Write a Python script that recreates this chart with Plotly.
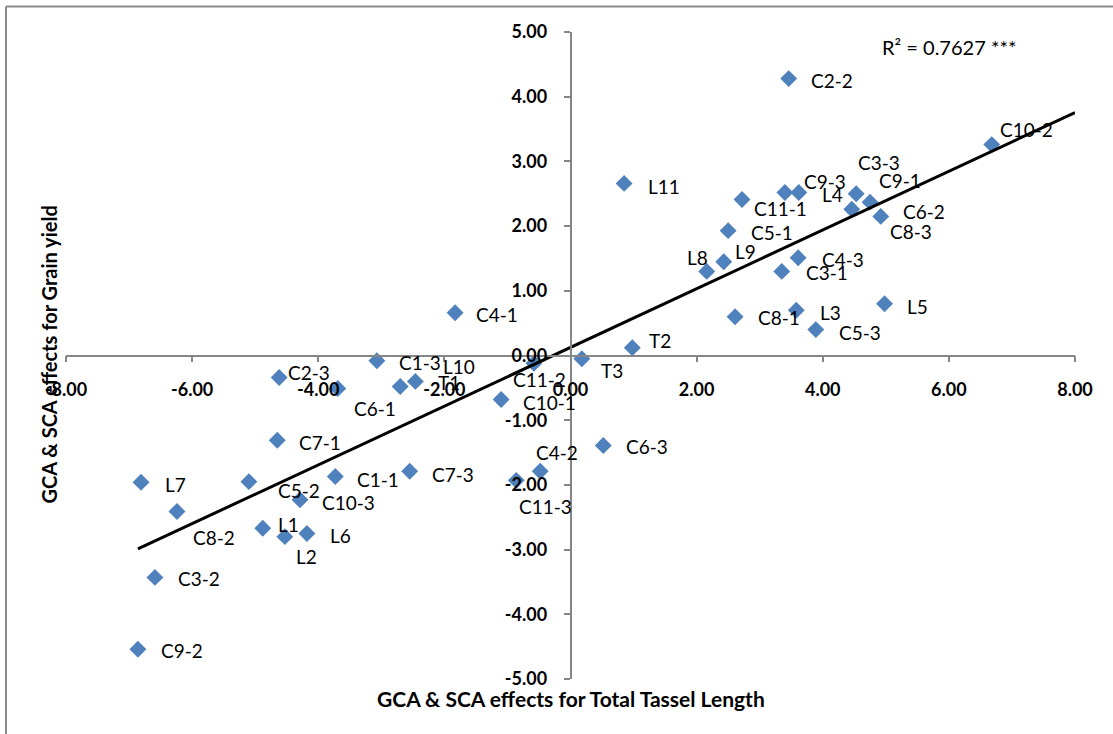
import numpy as np
import plotly.graph_objects as go

# ---- data ----
labels = ["C2-2", "C10-2", "L11", "C11-1", "C9-3", "L4", "C3-3", "C9-1", "C8-3", "C6-2",
          "C5-1", "L9", "L8", "C4-3", "C3-1", "L5", "L3", "C8-1", "C5-3", "T2",
          "T3", "C4-1", "C1-3", "L10", "T1", "C6-1", "C2-3", "C11-2", "C10-1", "C7-1",
          "C6-3", "C4-2", "C11-3", "C7-3", "C1-1", "C5-2", "L7", "C10-3", "C8-2", "L1",
          "L2", "L6", "C3-2", "C9-2"]
tassel_length = [3.46, 6.68, 0.85, 2.72, 3.40, 3.62, 4.53, 4.75, 4.46, 4.92,
                 2.50, 2.43, 2.16, 3.61, 3.35, 4.98, 3.58, 2.61, 3.89, 0.98,
                 0.18, -1.83, -3.07, -2.70, -2.46, -3.69, -4.62, -0.58, -1.10, -4.65,
                 0.52, -0.48, -0.86, -2.55, -3.73, -5.10, -6.81, -4.29, -6.24, -4.88,
                 -4.53, -4.18, -6.59, -6.86]
grain_yield = [4.28, 3.26, 2.66, 2.41, 2.52, 2.52, 2.50, 2.37, 2.26, 2.15,
               1.93, 1.45, 1.30, 1.51, 1.30, 0.80, 0.70, 0.60, 0.40, 0.12,
               -0.05, 0.66, -0.08, -0.48, -0.40, -0.51, -0.34, -0.12, -0.68, -1.31,
               -1.39, -1.79, -1.93, -1.79, -1.87, -1.95, -1.96, -2.23, -2.41, -2.67,
               -2.80, -2.75, -3.43, -4.54]
x_ticks = [-8, -6, -4, -2, 0, 2, 4, 6, 8]
y_ticks = [-5, -4, -3, -2, -1, 0, 1, 2, 3, 4, 5]
x_tick_labels = [f"{v:.2f}" for v in x_ticks]
y_tick_labels = [f"{v:.2f}" for v in y_ticks]
r2_text = "R² = 0.7627 ***"
x_title = "GCA & SCA effects for Total Tassel Length"
y_title = "GCA & SCA effects for Grain yield"

# ---- style: label offsets in pixels (dx to text left edge, dy downward) ----
label_offsets = {
    "C2-2": (21, 2), "C10-2": (7, -15), "L11": (23, 3), "C11-1": (11, 9), "C9-3": (18, -11),
    "L4": (22, 2), "C3-3": (1, -31), "C9-1": (8, -22), "C8-3": (37, 22), "C6-2": (21, -5),
    "C5-1": (22, 2), "L9": (10, -10), "L8": (-21, -14), "C4-3": (23, 2), "C3-1": (23, 1),
    "L5": (21, 3), "L3": (23, 2), "C8-1": (22, 1), "C5-3": (22, 3), "T2": (16, -7),
    "T3": (18, 12), "C4-1": (20, 2), "C1-3": (21, 2), "L10": (42, -20), "T1": (22, 1),
    "C6-1": (15, 20), "C2-3": (8, -5), "C11-2": (-22, 16), "C10-1": (21, 3), "C7-1": (21, 2),
    "C6-3": (22, 1), "C4-2": (-5, -19), "C11-3": (2, 26), "C7-3": (21, 3), "C1-1": (21, 3),
    "C5-2": (28, 9), "L7": (23, 2), "C10-3": (21, 3), "C8-2": (15, 26), "L1": (14, -4),
    "L2": (10, 20), "L6": (22, 2), "C3-2": (22, 1), "C9-2": (22, 1),
}

FONT = "Lato"
AXIS_COLOR = "#868686"
X_MIN, X_MAX = -8, 8
Y_MIN, Y_MAX = -5, 5

fig = go.Figure()

fig.add_trace(go.Scatter(
    x=tassel_length, y=grain_yield, mode="markers",
    marker=dict(symbol="diamond", size=13, color="#4F81BD", line=dict(width=0)),
    showlegend=False, hoverinfo="text", text=labels,
))

# linear trendline computed from the data
xs = np.array(tassel_length)
ys = np.array(grain_yield)
slope, intercept = np.polyfit(xs, ys, 1)
line_x = np.array([xs.min(), X_MAX])
fig.add_trace(go.Scatter(
    x=line_x, y=slope * line_x + intercept, mode="lines",
    line=dict(color="black", width=3), showlegend=False, hoverinfo="skip",
))

annotations = []
for lab, xv, yv in zip(labels, tassel_length, grain_yield):
    dx, dy = label_offsets.get(lab, (20, 0))
    annotations.append(dict(
        x=xv, y=yv, xref="x", yref="y", text=lab, showarrow=False,
        xanchor="left", yanchor="middle", xshift=dx - 1, yshift=-dy,
        font=dict(family=FONT, size=19, color="black"),
    ))

annotations.append(dict(
    x=(880 - 66) / 1009, y=(679.5 - 47) / 647, xref="paper", yref="paper",
    text=r2_text, showarrow=False, xanchor="left", yanchor="middle",
    font=dict(family=FONT, size=20, color="black"),
))
annotations.append(dict(
    x=0.5, y=(679.5 - 699) / 647, xref="paper", yref="paper",
    text=f"<b>{x_title}</b>", showarrow=False, xanchor="center", yanchor="middle",
    font=dict(family=FONT, size=21, color="black"),
))
annotations.append(dict(
    x=(48 - 66) / 1009, y=(679.5 - 355) / 647, xref="paper", yref="paper",
    text=f"<b>{y_title}</b>", showarrow=False, xanchor="center", yanchor="middle",
    textangle=-90, font=dict(family=FONT, size=20, color="black"),
))

shapes = [
    dict(type="line", xref="paper", yref="paper",
         x0=(6 - 66) / 1009, x1=(1200 - 66) / 1009,
         y0=(679.5 - 7) / 647, y1=(679.5 - 7) / 647,
         line=dict(color="#8c8c8c", width=2)),
    dict(type="line", xref="paper", yref="paper",
         x0=(6 - 66) / 1009, x1=(6 - 66) / 1009,
         y0=(679.5 - 7) / 647, y1=(679.5 - 800) / 647,
         line=dict(color="#8c8c8c", width=2)),
]

tickfont = dict(family=FONT, size=18, color="black", weight="bold")
fig.update_layout(
    width=1113, height=734,
    margin=dict(l=66, r=38, t=32, b=55, pad=0),
    paper_bgcolor="white", plot_bgcolor="white",
    xaxis=dict(range=[X_MIN, X_MAX], anchor="free", position=0.5,
               showline=True, linecolor=AXIS_COLOR, linewidth=1.5,
               ticks="outside", ticklen=6, tickcolor=AXIS_COLOR, tickwidth=1.5,
               tickvals=x_ticks, ticktext=x_tick_labels, tickfont=tickfont,
               ticklabelstandoff=12,
               showgrid=False, zeroline=False),
    yaxis=dict(range=[Y_MIN, Y_MAX], anchor="free", position=0.5,
               showline=True, linecolor=AXIS_COLOR, linewidth=1.5,
               ticks="outside", ticklen=6, tickcolor=AXIS_COLOR, tickwidth=1.5,
               tickvals=y_ticks, ticktext=y_tick_labels, tickfont=tickfont,
               ticklabelstandoff=13,
               showgrid=False, zeroline=False),
    annotations=annotations,
    shapes=shapes,
)

fig.write_html("out.html")
